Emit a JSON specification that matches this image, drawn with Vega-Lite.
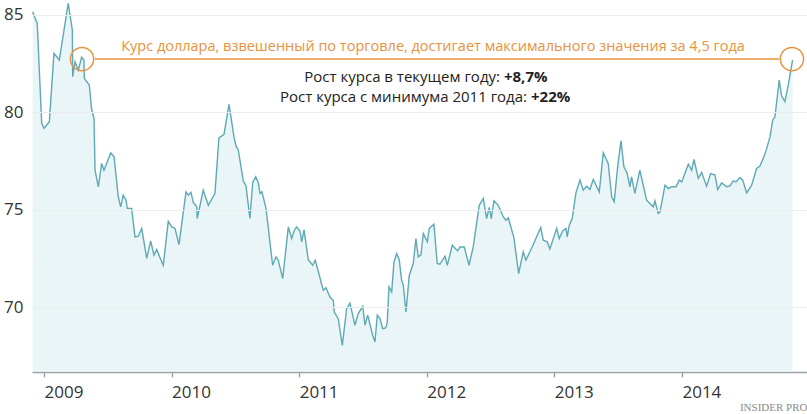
{
  "$schema": "https://vega.github.io/schema/vega-lite/v6.json",
  "width": 775,
  "height": 372,
  "autosize": "none",
  "padding": {"left": 32, "right": 0, "top": 0, "bottom": 42},
  "background": "white",
  "config": {"font": "Open Sans", "view": {"stroke": null}},
  "datasets": {
    "series": [
      {"t": 2008.911, "v": 85.17}, {"t": 2008.947, "v": 84.57}, {"t": 2008.982, "v": 79.44}, {"t": 2009.0, "v": 79.18},
      {"t": 2009.042, "v": 79.52}, {"t": 2009.078, "v": 83.03}, {"t": 2009.12, "v": 82.69}, {"t": 2009.19, "v": 85.6},
      {"t": 2009.222, "v": 84.23}, {"t": 2009.225, "v": 81.83}, {"t": 2009.243, "v": 82.6}, {"t": 2009.269, "v": 82.17},
      {"t": 2009.295, "v": 82.83}, {"t": 2009.313, "v": 82.69}, {"t": 2009.316, "v": 81.75}, {"t": 2009.355, "v": 81.4},
      {"t": 2009.374, "v": 80.12}, {"t": 2009.392, "v": 79.69}, {"t": 2009.4, "v": 77.03}, {"t": 2009.426, "v": 76.18},
      {"t": 2009.452, "v": 77.38}, {"t": 2009.47, "v": 77.03}, {"t": 2009.523, "v": 77.92}, {"t": 2009.549, "v": 77.72},
      {"t": 2009.582, "v": 75.67}, {"t": 2009.601, "v": 75.15}, {"t": 2009.621, "v": 75.75}, {"t": 2009.643, "v": 75.49},
      {"t": 2009.653, "v": 75.07}, {"t": 2009.687, "v": 75.07}, {"t": 2009.713, "v": 73.61}, {"t": 2009.739, "v": 73.64},
      {"t": 2009.766, "v": 74.04}, {"t": 2009.805, "v": 72.5}, {"t": 2009.836, "v": 73.4}, {"t": 2009.862, "v": 72.67},
      {"t": 2009.883, "v": 72.96}, {"t": 2009.915, "v": 72.45}, {"t": 2009.935, "v": 72.15}, {"t": 2009.974, "v": 74.41},
      {"t": 2010.001, "v": 74.12}, {"t": 2010.027, "v": 74.04}, {"t": 2010.058, "v": 73.21}, {"t": 2010.113, "v": 75.92},
      {"t": 2010.131, "v": 75.75}, {"t": 2010.152, "v": 75.89}, {"t": 2010.17, "v": 75.37}, {"t": 2010.197, "v": 75.15},
      {"t": 2010.201, "v": 74.55}, {"t": 2010.248, "v": 76.01}, {"t": 2010.288, "v": 75.23}, {"t": 2010.34, "v": 75.84},
      {"t": 2010.371, "v": 78.69}, {"t": 2010.411, "v": 78.87}, {"t": 2010.45, "v": 80.41}, {"t": 2010.489, "v": 78.74},
      {"t": 2010.505, "v": 78.28}, {"t": 2010.523, "v": 78.06}, {"t": 2010.562, "v": 76.47}, {"t": 2010.583, "v": 76.23},
      {"t": 2010.614, "v": 74.55}, {"t": 2010.636, "v": 76.4}, {"t": 2010.659, "v": 76.69}, {"t": 2010.679, "v": 76.4},
      {"t": 2010.693, "v": 75.84}, {"t": 2010.708, "v": 75.92}, {"t": 2010.74, "v": 75.07}, {"t": 2010.792, "v": 72.15},
      {"t": 2010.818, "v": 72.58}, {"t": 2010.836, "v": 72.41}, {"t": 2010.871, "v": 71.47}, {"t": 2010.915, "v": 74.12},
      {"t": 2010.941, "v": 73.52}, {"t": 2010.962, "v": 73.95}, {"t": 2010.98, "v": 74.12}, {"t": 2011.006, "v": 73.91},
      {"t": 2011.02, "v": 73.35}, {"t": 2011.038, "v": 73.98}, {"t": 2011.071, "v": 72.44}, {"t": 2011.106, "v": 72.15},
      {"t": 2011.126, "v": 72.41}, {"t": 2011.189, "v": 70.87}, {"t": 2011.21, "v": 71.0}, {"t": 2011.241, "v": 70.52},
      {"t": 2011.267, "v": 70.35}, {"t": 2011.275, "v": 69.75}, {"t": 2011.306, "v": 69.41}, {"t": 2011.338, "v": 68.04},
      {"t": 2011.372, "v": 69.92}, {"t": 2011.398, "v": 70.21}, {"t": 2011.437, "v": 69.07}, {"t": 2011.463, "v": 69.67},
      {"t": 2011.498, "v": 70.04}, {"t": 2011.516, "v": 69.07}, {"t": 2011.537, "v": 69.59}, {"t": 2011.576, "v": 68.56},
      {"t": 2011.594, "v": 68.21}, {"t": 2011.612, "v": 69.59}, {"t": 2011.633, "v": 69.41}, {"t": 2011.654, "v": 68.9},
      {"t": 2011.678, "v": 68.93}, {"t": 2011.69, "v": 69.19}, {"t": 2011.704, "v": 71.04}, {"t": 2011.725, "v": 70.78},
      {"t": 2011.743, "v": 72.32}, {"t": 2011.764, "v": 72.75}, {"t": 2011.784, "v": 72.44}, {"t": 2011.803, "v": 71.38},
      {"t": 2011.816, "v": 71.12}, {"t": 2011.837, "v": 69.75}, {"t": 2011.863, "v": 71.64}, {"t": 2011.894, "v": 72.24},
      {"t": 2011.915, "v": 73.52}, {"t": 2011.933, "v": 72.58}, {"t": 2011.954, "v": 72.67}, {"t": 2011.973, "v": 73.78},
      {"t": 2012.004, "v": 73.35}, {"t": 2012.02, "v": 74.04}, {"t": 2012.056, "v": 74.26}, {"t": 2012.082, "v": 72.24},
      {"t": 2012.103, "v": 72.2}, {"t": 2012.143, "v": 72.61}, {"t": 2012.161, "v": 72.15}, {"t": 2012.2, "v": 73.18},
      {"t": 2012.242, "v": 72.89}, {"t": 2012.26, "v": 73.09}, {"t": 2012.294, "v": 73.09}, {"t": 2012.331, "v": 72.15},
      {"t": 2012.364, "v": 73.09}, {"t": 2012.411, "v": 75.23}, {"t": 2012.443, "v": 75.58}, {"t": 2012.469, "v": 74.55},
      {"t": 2012.49, "v": 75.12}, {"t": 2012.505, "v": 74.55}, {"t": 2012.527, "v": 75.46}, {"t": 2012.56, "v": 75.23},
      {"t": 2012.6, "v": 74.63}, {"t": 2012.621, "v": 74.46}, {"t": 2012.639, "v": 74.58}, {"t": 2012.683, "v": 73.57},
      {"t": 2012.72, "v": 71.72}, {"t": 2012.756, "v": 72.84}, {"t": 2012.777, "v": 72.41}, {"t": 2012.832, "v": 73.18},
      {"t": 2012.893, "v": 74.09}, {"t": 2012.913, "v": 73.44}, {"t": 2012.944, "v": 73.35}, {"t": 2012.965, "v": 72.99},
      {"t": 2013.018, "v": 74.04}, {"t": 2013.038, "v": 73.52}, {"t": 2013.065, "v": 73.91}, {"t": 2013.091, "v": 74.04},
      {"t": 2013.101, "v": 73.61}, {"t": 2013.117, "v": 74.21}, {"t": 2013.14, "v": 74.55}, {"t": 2013.169, "v": 75.87},
      {"t": 2013.201, "v": 76.52}, {"t": 2013.226, "v": 76.01}, {"t": 2013.253, "v": 76.21}, {"t": 2013.279, "v": 76.04},
      {"t": 2013.305, "v": 76.56}, {"t": 2013.352, "v": 75.92}, {"t": 2013.383, "v": 77.92}, {"t": 2013.422, "v": 77.38},
      {"t": 2013.449, "v": 75.67}, {"t": 2013.469, "v": 75.41}, {"t": 2013.496, "v": 77.2}, {"t": 2013.522, "v": 78.54},
      {"t": 2013.545, "v": 77.2}, {"t": 2013.571, "v": 76.86}, {"t": 2013.592, "v": 76.18}, {"t": 2013.605, "v": 76.69},
      {"t": 2013.631, "v": 75.84}, {"t": 2013.67, "v": 77.03}, {"t": 2013.723, "v": 75.49}, {"t": 2013.775, "v": 75.15},
      {"t": 2013.788, "v": 75.46}, {"t": 2013.814, "v": 74.81}, {"t": 2013.828, "v": 74.89}, {"t": 2013.867, "v": 76.26},
      {"t": 2013.893, "v": 76.09}, {"t": 2013.919, "v": 76.18}, {"t": 2013.953, "v": 76.18}, {"t": 2013.979, "v": 76.52},
      {"t": 2013.998, "v": 76.43}, {"t": 2014.023, "v": 76.86}, {"t": 2014.05, "v": 77.34}, {"t": 2014.076, "v": 77.03},
      {"t": 2014.094, "v": 77.58}, {"t": 2014.128, "v": 76.61}, {"t": 2014.154, "v": 76.92}, {"t": 2014.193, "v": 76.21},
      {"t": 2014.225, "v": 76.86}, {"t": 2014.259, "v": 76.78}, {"t": 2014.28, "v": 76.04}, {"t": 2014.311, "v": 76.38},
      {"t": 2014.35, "v": 76.18}, {"t": 2014.376, "v": 76.23}, {"t": 2014.402, "v": 76.48}, {"t": 2014.423, "v": 76.43},
      {"t": 2014.455, "v": 76.66}, {"t": 2014.476, "v": 76.52}, {"t": 2014.507, "v": 75.87}, {"t": 2014.546, "v": 76.26},
      {"t": 2014.585, "v": 77.12}, {"t": 2014.611, "v": 77.24}, {"t": 2014.637, "v": 77.63}, {"t": 2014.658, "v": 78.01},
      {"t": 2014.69, "v": 78.74}, {"t": 2014.711, "v": 79.6}, {"t": 2014.729, "v": 79.77}, {"t": 2014.762, "v": 81.66},
      {"t": 2014.781, "v": 80.84}, {"t": 2014.807, "v": 80.55}, {"t": 2014.833, "v": 81.4}, {"t": 2014.867, "v": 82.69}
    ]
  },
  "encoding": {
    "x": {
      "field": "t", "type": "quantitative",
      "scale": {"domain": [2008.906, 2014.98], "nice": false, "zero": false},
      "axis": {
        "values": [2009, 2010, 2011, 2012, 2013, 2014], "format": "d",
        "grid": false, "labelAlign": "left", "labelFontSize": 17, "labelColor": "#333333",
        "labelPadding": 7, "tickSize": 5, "tickColor": "#98a2a6", "domainColor": "#98a2a6",
        "domainWidth": 1.6, "tickWidth": 1.4,
        "title": "INSIDER PRO", "titleAnchor": "end", "titleFont": "Liberation Serif",
        "titleFontSize": 11, "titleFontWeight": "normal", "titleColor": "#8a8a8a", "titlePadding": 1
      }
    },
    "y": {
      "field": "v", "type": "quantitative",
      "scale": {"domain": [66.67, 85.77], "nice": false, "zero": false},
      "axis": {
        "values": [70, 75, 80, 85], "grid": true, "gridColor": "#ececec", "gridWidth": 1,
        "domain": false, "ticks": false, "labelFontSize": 17, "labelColor": "#333333",
        "labelPadding": 9, "title": null, "zindex": 1
      }
    }
  },
  "layer": [
    {
      "data": {"name": "series"},
      "mark": {"type": "area", "color": "#dff1f4", "line": {"color": "#5ea9b4", "strokeWidth": 1.4}},
      "encoding": {"y2": {"datum": 66.67}}
    },
    {
      "data": {"values": [{"t": 2009.4, "t2": 2014.76, "v": 82.74}]},
      "mark": {"type": "rule", "color": "#e8923c", "strokeWidth": 1.5},
      "encoding": {"x2": {"field": "t2"}}
    },
    {
      "data": {"values": [{"t": 2009.298, "v": 82.74}, {"t": 2014.862, "v": 82.74}]},
      "mark": {"type": "point", "shape": "circle", "filled": false, "size": 540, "stroke": "#e8923c", "strokeWidth": 1.5, "opacity": 1}
    },
    {
      "data": {"values": [{"t": 2012.049, "v": 83.36, "label": "Курс доллара, взвешенный по торговле, достигает максимального значения за 4,5 года"}]},
      "mark": {"type": "text", "align": "center", "baseline": "middle", "fontSize": 14.5, "color": "#e8923c"},
      "encoding": {"text": {"field": "label"}}
    },
    {
      "data": {"values": [
        {"t": 2012.605, "v": 81.81, "label": "Рост курса в текущем году:"},
        {"t": 2012.817, "v": 80.79, "label": "Рост курса с минимума 2011 года:"}
      ]},
      "mark": {"type": "text", "align": "right", "baseline": "middle", "dx": -4, "fontSize": 15, "color": "#222222"},
      "encoding": {"text": {"field": "label"}}
    },
    {
      "data": {"values": [
        {"t": 2012.605, "v": 81.81, "label": "+8,7%"},
        {"t": 2012.817, "v": 80.79, "label": "+22%"}
      ]},
      "mark": {"type": "text", "align": "left", "baseline": "middle", "fontSize": 15, "fontWeight": "bold", "color": "#222222"},
      "encoding": {"text": {"field": "label"}}
    }
  ]
}
